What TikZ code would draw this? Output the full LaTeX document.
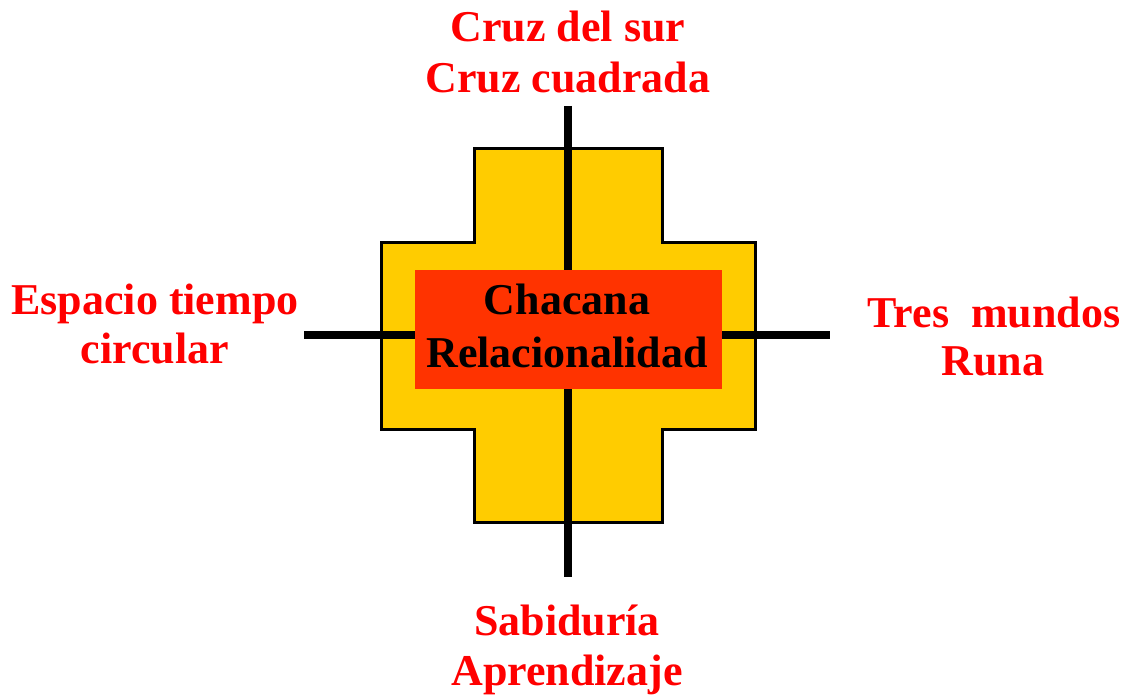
\documentclass[tikz,border=0pt]{standalone}
\usepackage{fontspec}
\setmainfont{Liberation Serif}
\definecolor{crossyellow}{HTML}{FFCC00}
\definecolor{boxred}{HTML}{FF3300}
\definecolor{labelred}{HTML}{FF0000}
\begin{document}
\begin{tikzpicture}[x=1pt,y=-1pt,
  lbl/.style={font=\fontsize{44}{50}\selectfont\bfseries, text=labelred, inner sep=0pt, anchor=base},
  ctr/.style={font=\fontsize{44}{50}\selectfont\bfseries, text=black, inner sep=0pt, anchor=base},
  axis/.style={line width=8pt, black},
  cross/.style={fill=crossyellow, draw=black, line width=3pt, line join=miter}]
\path[use as bounding box] (0,0) rectangle (1128,695);
% cross
\draw[cross] (474,149) -- (662,149) -- (662,243) -- (755,243) -- (755,429) -- (662,429)
  -- (662,522) -- (474,522) -- (474,429) -- (381,429) -- (381,243) -- (474,243) -- cycle;
% axes
\coordinate (vtop) at (568,106);
\coordinate (vbot) at (568,577);
\coordinate (hleft) at (304,335);
\coordinate (hright) at (830,335);
\draw[axis] (vtop) -- (vbot);
\draw[axis] (hleft) -- (hright);
% central box
\node[fill=boxred, minimum width=307pt, minimum height=119pt, inner sep=0pt] (box) at (568.5,329.5) {};
\node[ctr] (c1) at (567,315) {Chacana};
\node[ctr] (c2) at (567,367) {Relacionalidad};
% labels
\node[lbl] (t1) at (568,42) {Cruz del sur};
\node[lbl] (t2) at (568,93) {Cruz cuadrada};
\node[lbl] (l1) at (155,315) {Espacio tiempo};
\node[lbl] (l2) at (155,363) {circular};
\node[lbl] (r1) at (994,327) {Tres\ \ mundos};
\node[lbl] (r2) at (993,375) {Runa};
\node[lbl] (b1) at (567,635) {Sabiduría};
\node[lbl] (b2) at (567,685) {Aprendizaje};
\end{tikzpicture}
\end{document}
